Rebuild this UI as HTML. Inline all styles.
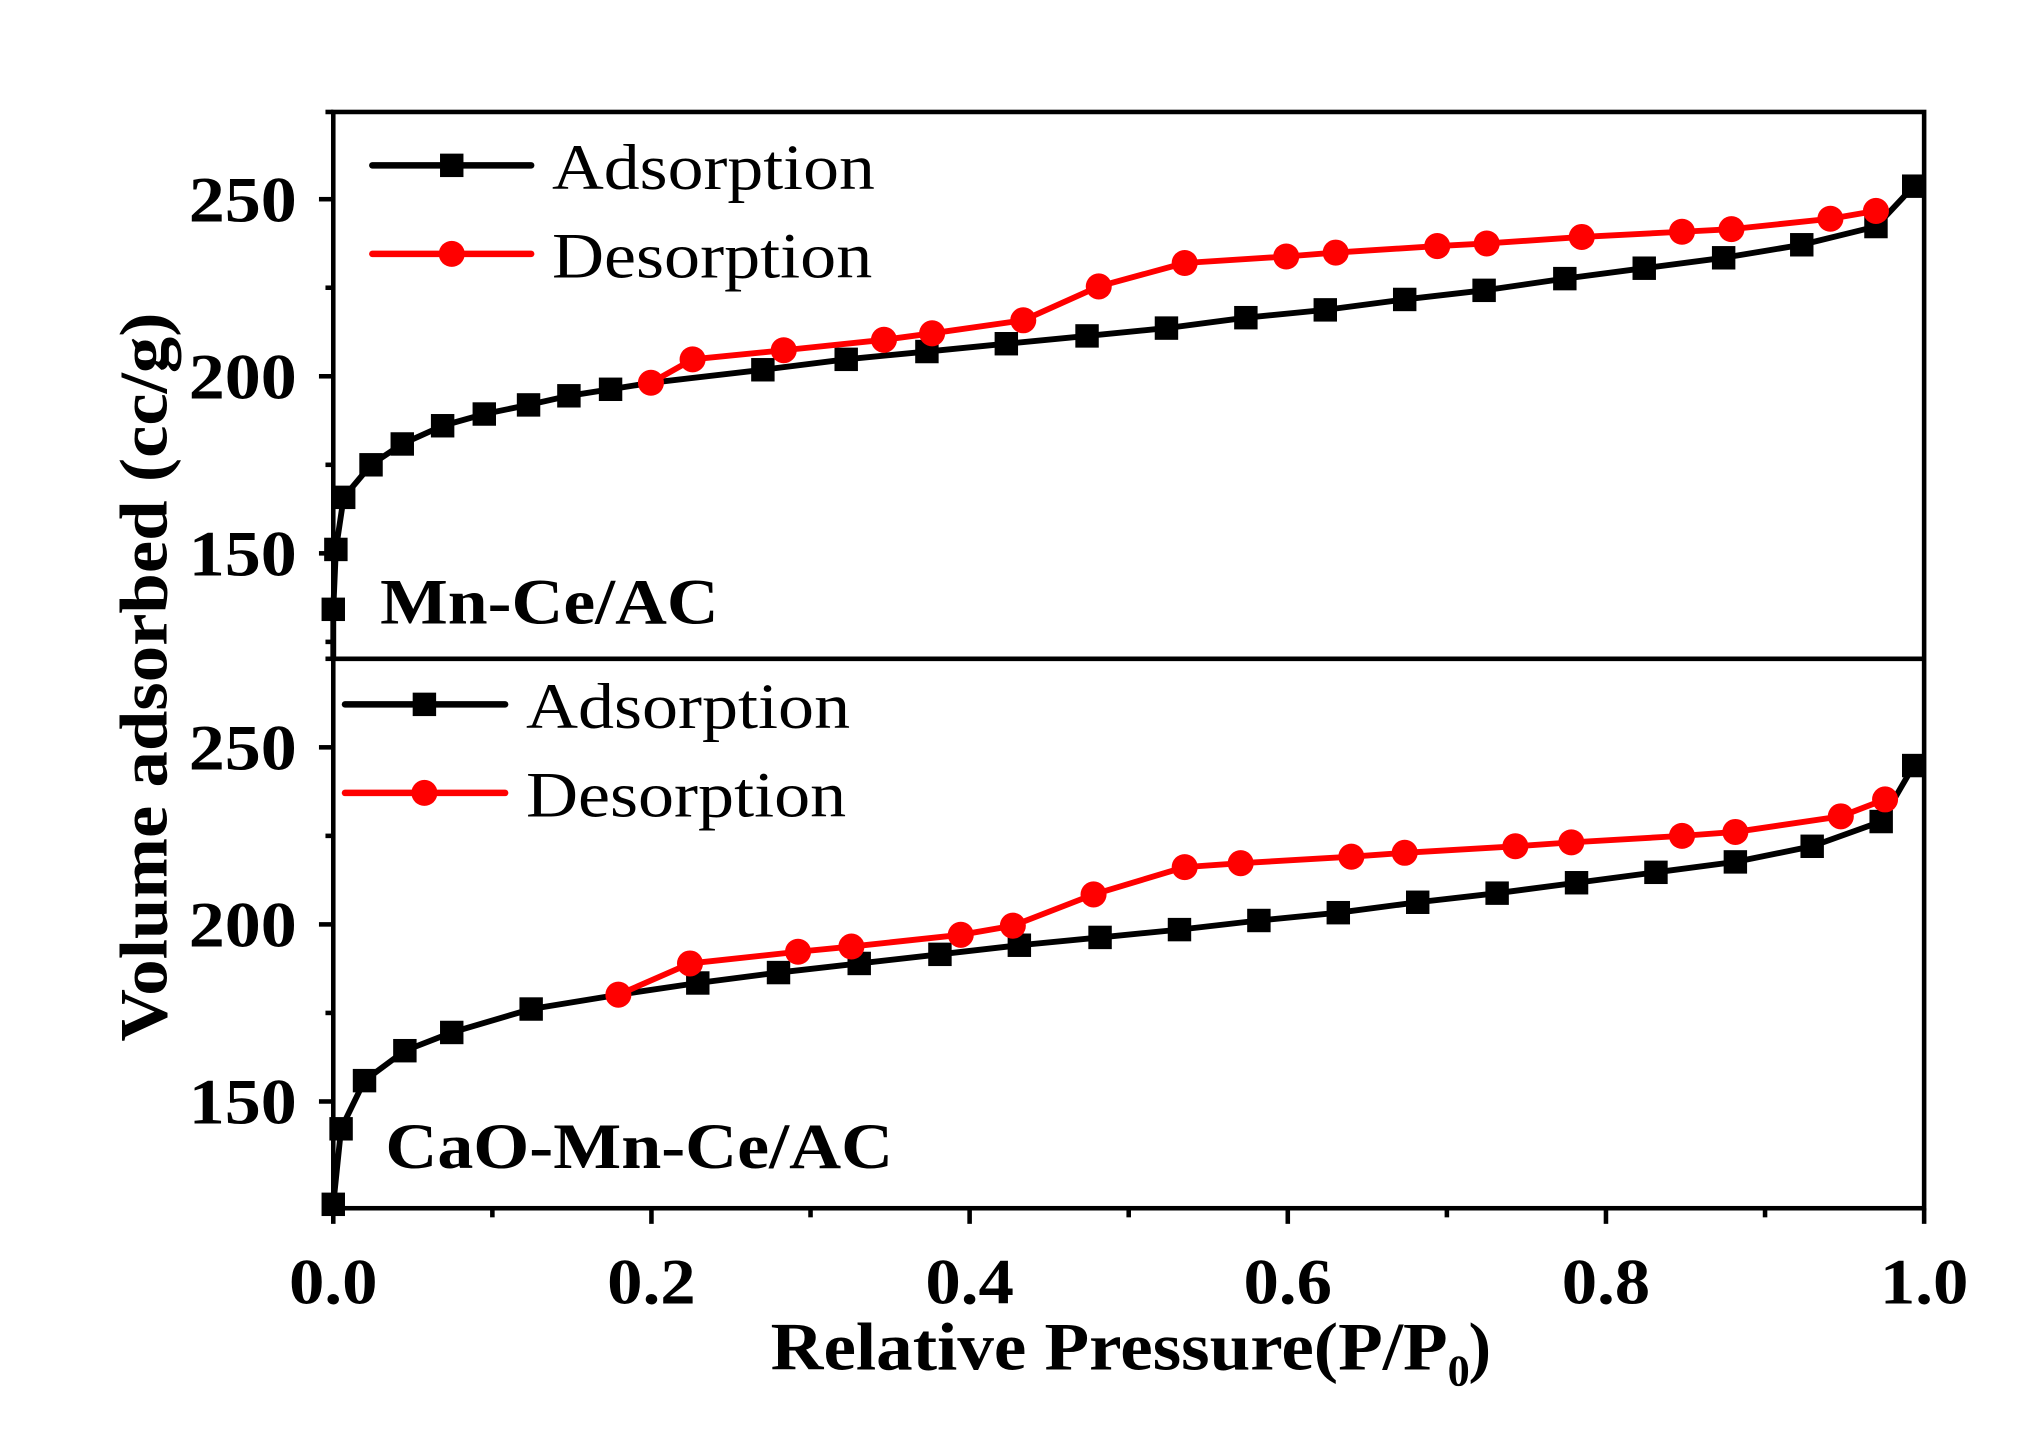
<!DOCTYPE html>
<html><head><meta charset="utf-8"><style>
html,body{margin:0;padding:0;background:#fff;}
svg{display:block;}
text{font-family:"Liberation Serif",serif;}
</style></head><body>
<svg width="2040" height="1453" viewBox="0 0 1567 1116" preserveAspectRatio="none" xmlns="http://www.w3.org/2000/svg">
<rect width="1567" height="1116" fill="#fff"/>
<g stroke="#000" stroke-width="3.5" fill="none">
<rect x="256" y="86" width="1222" height="842"/>
<line x1="256" y1="506" x2="1478" y2="506"/>
<line x1="245" y1="153" x2="256" y2="153"/>
<line x1="245" y1="289" x2="256" y2="289"/>
<line x1="245" y1="425" x2="256" y2="425"/>
<line x1="250" y1="221" x2="256" y2="221"/>
<line x1="250" y1="357" x2="256" y2="357"/>
<line x1="250" y1="493" x2="256" y2="493"/>
<line x1="250" y1="86" x2="256" y2="86"/>
<line x1="245" y1="574" x2="256" y2="574"/>
<line x1="245" y1="710" x2="256" y2="710"/>
<line x1="245" y1="846" x2="256" y2="846"/>
<line x1="250" y1="642" x2="256" y2="642"/>
<line x1="250" y1="778" x2="256" y2="778"/>
<line x1="250" y1="506" x2="256" y2="506"/>
<line x1="256" y1="928" x2="256" y2="940"/>
<line x1="500.4" y1="928" x2="500.4" y2="940"/>
<line x1="744.8" y1="928" x2="744.8" y2="940"/>
<line x1="989.2" y1="928" x2="989.2" y2="940"/>
<line x1="1233.6" y1="928" x2="1233.6" y2="940"/>
<line x1="1478" y1="928" x2="1478" y2="940"/>
<line x1="378.2" y1="928" x2="378.2" y2="935"/>
<line x1="622.6" y1="928" x2="622.6" y2="935"/>
<line x1="867" y1="928" x2="867" y2="935"/>
<line x1="1111.4" y1="928" x2="1111.4" y2="935"/>
<line x1="1355.8" y1="928" x2="1355.8" y2="935"/>
</g>
<defs>
<rect id="sq" x="-9" y="-9" width="18" height="18" fill="#000"/>
<circle id="ci" r="10" fill="#f00"/>
</defs>
<polyline fill="none" stroke="#000" stroke-width="4.5" stroke-linejoin="round" points="256,505 256,468 258,422 264,382 285,357 309,341 340,327 372,318 406,311 437,304 469,299 500,294 586,284 650,276 712,270 773,264 835,258 896,252 957,244 1018,238 1079,230 1140,223 1202,214 1263,206 1324,198 1384,188 1441,174 1470,143"/>
<g>
<use href="#sq" x="256" y="468"/><use href="#sq" x="258" y="422"/><use href="#sq" x="264" y="382"/><use href="#sq" x="285" y="357"/><use href="#sq" x="309" y="341"/><use href="#sq" x="340" y="327"/><use href="#sq" x="372" y="318"/><use href="#sq" x="406" y="311"/><use href="#sq" x="437" y="304"/><use href="#sq" x="469" y="299"/><use href="#sq" x="586" y="284"/><use href="#sq" x="650" y="276"/><use href="#sq" x="712" y="270"/><use href="#sq" x="773" y="264"/><use href="#sq" x="835" y="258"/><use href="#sq" x="896" y="252"/><use href="#sq" x="957" y="244"/><use href="#sq" x="1018" y="238"/><use href="#sq" x="1079" y="230"/><use href="#sq" x="1140" y="223"/><use href="#sq" x="1202" y="214"/><use href="#sq" x="1263" y="206"/><use href="#sq" x="1324" y="198"/><use href="#sq" x="1384" y="188"/><use href="#sq" x="1441" y="174"/><use href="#sq" x="1470" y="143"/>
</g>
<polyline fill="none" stroke="#f00" stroke-width="4.5" stroke-linejoin="round" points="500,294 532,276 602,269 679,261 716,256 786,246 844,220 910,202 988,197 1026,194 1104,189 1142,187 1215,182 1292,178 1330,176 1406,168 1441,162"/>
<g>
<use href="#ci" x="500" y="294"/><use href="#ci" x="532" y="276"/><use href="#ci" x="602" y="269"/><use href="#ci" x="679" y="261"/><use href="#ci" x="716" y="256"/><use href="#ci" x="786" y="246"/><use href="#ci" x="844" y="220"/><use href="#ci" x="910" y="202"/><use href="#ci" x="988" y="197"/><use href="#ci" x="1026" y="194"/><use href="#ci" x="1104" y="189"/><use href="#ci" x="1142" y="187"/><use href="#ci" x="1215" y="182"/><use href="#ci" x="1292" y="178"/><use href="#ci" x="1330" y="176"/><use href="#ci" x="1406" y="168"/><use href="#ci" x="1441" y="162"/>
</g>
<polyline fill="none" stroke="#000" stroke-width="4.5" stroke-linejoin="round" points="256,925 262,867 280,830 311,807 347,793 408,775 475,764 536,755 598,747 660,740 722,733 783,726 845,720 906,714 967,707 1028,701 1089,693 1150,686 1211,678 1272,670 1333,662 1392,650 1445,631 1470,588"/>
<g>
<use href="#sq" x="256" y="925"/><use href="#sq" x="262" y="867"/><use href="#sq" x="280" y="830"/><use href="#sq" x="311" y="807"/><use href="#sq" x="347" y="793"/><use href="#sq" x="408" y="775"/><use href="#sq" x="536" y="755"/><use href="#sq" x="598" y="747"/><use href="#sq" x="660" y="740"/><use href="#sq" x="722" y="733"/><use href="#sq" x="783" y="726"/><use href="#sq" x="845" y="720"/><use href="#sq" x="906" y="714"/><use href="#sq" x="967" y="707"/><use href="#sq" x="1028" y="701"/><use href="#sq" x="1089" y="693"/><use href="#sq" x="1150" y="686"/><use href="#sq" x="1211" y="678"/><use href="#sq" x="1272" y="670"/><use href="#sq" x="1333" y="662"/><use href="#sq" x="1392" y="650"/><use href="#sq" x="1445" y="631"/><use href="#sq" x="1470" y="588"/>
</g>
<polyline fill="none" stroke="#f00" stroke-width="4.5" stroke-linejoin="round" points="475,764 530,740 613,731 654,727 738,718 778,711 840,687 910,666 953,663 1038,658 1079,655 1164,650 1207,647 1292,642 1333,639 1414,627 1448,614"/>
<g>
<use href="#ci" x="475" y="764"/><use href="#ci" x="530" y="740"/><use href="#ci" x="613" y="731"/><use href="#ci" x="654" y="727"/><use href="#ci" x="738" y="718"/><use href="#ci" x="778" y="711"/><use href="#ci" x="840" y="687"/><use href="#ci" x="910" y="666"/><use href="#ci" x="953" y="663"/><use href="#ci" x="1038" y="658"/><use href="#ci" x="1079" y="655"/><use href="#ci" x="1164" y="650"/><use href="#ci" x="1207" y="647"/><use href="#ci" x="1292" y="642"/><use href="#ci" x="1333" y="639"/><use href="#ci" x="1414" y="627"/><use href="#ci" x="1448" y="614"/>
</g>
<g stroke-width="5" stroke-linecap="round">
<line x1="286" y1="127" x2="408" y2="127" stroke="#000"/>
<line x1="286" y1="195" x2="408" y2="195" stroke="#f00"/>
<line x1="265" y1="541" x2="388" y2="541" stroke="#000"/>
<line x1="265" y1="609" x2="388" y2="609" stroke="#f00"/>
</g>
<use href="#sq" x="347" y="127"/><use href="#ci" x="347" y="195"/>
<use href="#sq" x="326" y="541"/><use href="#ci" x="326" y="609"/>
<g font-size="50" fill="#000" lengthAdjust="spacingAndGlyphs">
<text x="424" y="145" textLength="248" lengthAdjust="spacingAndGlyphs">Adsorption</text>
<text x="424" y="213" textLength="246" lengthAdjust="spacingAndGlyphs">Desorption</text>
<text x="404" y="559" textLength="249" lengthAdjust="spacingAndGlyphs">Adsorption</text>
<text x="404" y="627" textLength="246" lengthAdjust="spacingAndGlyphs">Desorption</text>
</g>
<g font-size="50" font-weight="bold" fill="#000">
<text x="292" y="479" textLength="260" lengthAdjust="spacingAndGlyphs">Mn-Ce/AC</text>
<text x="296" y="897" textLength="390" lengthAdjust="spacingAndGlyphs">CaO-Mn-Ce/AC</text>
</g>
<g font-size="50" font-weight="bold" fill="#000">
<text x="145" y="170" textLength="83" lengthAdjust="spacingAndGlyphs">250</text>
<text x="145" y="306" textLength="83" lengthAdjust="spacingAndGlyphs">200</text>
<text x="145" y="442" textLength="83" lengthAdjust="spacingAndGlyphs">150</text>
<text x="145" y="591" textLength="83" lengthAdjust="spacingAndGlyphs">250</text>
<text x="145" y="727" textLength="83" lengthAdjust="spacingAndGlyphs">200</text>
<text x="145" y="863" textLength="83" lengthAdjust="spacingAndGlyphs">150</text>
</g>
<g font-size="50" font-weight="bold" fill="#000">
<text x="222" y="1001" textLength="68" lengthAdjust="spacingAndGlyphs">0.0</text>
<text x="466.4" y="1001" textLength="68" lengthAdjust="spacingAndGlyphs">0.2</text>
<text x="710.8" y="1001" textLength="68" lengthAdjust="spacingAndGlyphs">0.4</text>
<text x="955.2" y="1001" textLength="68" lengthAdjust="spacingAndGlyphs">0.6</text>
<text x="1199.6" y="1001" textLength="68" lengthAdjust="spacingAndGlyphs">0.8</text>
<text x="1444" y="1001" textLength="68" lengthAdjust="spacingAndGlyphs">1.0</text>
</g>
<text x="592" y="1052" font-size="52" font-weight="bold" textLength="520" lengthAdjust="spacingAndGlyphs">Relative Pressure(P/P</text>
<text x="1112" y="1064" font-size="34" font-weight="bold">0</text>
<text x="1128" y="1052" font-size="52" font-weight="bold">)</text>
<text transform="translate(128,800) rotate(-90)" font-size="52" font-weight="bold" textLength="560" lengthAdjust="spacingAndGlyphs">Volume adsorbed (cc/g)</text>
</svg>
</body></html>
